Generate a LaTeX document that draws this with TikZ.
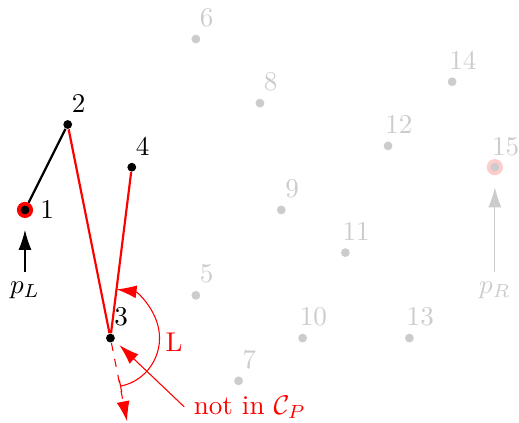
\documentclass[tikz,border=0pt]{standalone}
\usepackage{tikz}
\usetikzlibrary{arrows.meta,calc}
\colorlet{hullRed}{red}
\colorlet{faded}{black!20}
\colorlet{fadedRed}{red!20}
\tikzset{
  pt/.style={circle,fill=black,inner sep=0pt,minimum size=3.25pt},
  fadedpt/.style={pt,fill=faded},
  ringpt/.style={pt,minimum size=4.6pt,draw=hullRed,line width=1.35pt},
  lbl/.style={inner sep=0pt,label distance=2.4pt,xshift=4pt},
  tip/.style={-{Latex[length=7.4pt,width=4.8pt]}},
}

\begin{document}
\begin{tikzpicture}[x=0.277cm,y=0.277cm]
        \useasboundingbox (-1.17,-9.97) rectangle (23.13,9.83);
        \node[fadedpt,label={[lbl,faded]above:5}] (p5) at (8,-4) {};
        \node[fadedpt,label={[lbl,faded]above:6}] (p6) at (8,8) {};
        \node[fadedpt,label={[lbl,faded]above:7}] (p7) at (10,-8) {};
        \node[fadedpt,label={[lbl,faded]above:8}] (p8) at (11,5) {};
        \node[fadedpt,label={[lbl,faded]above:9}] (p9) at (12,0) {};
        \node[fadedpt,label={[lbl,faded]above:10}] (p10) at (13,-6) {};
        \node[fadedpt,label={[lbl,faded]above:11}] (p11) at (15,-2) {};
        \node[fadedpt,label={[lbl,faded]above:12}] (p12) at (17,3) {};
        \node[fadedpt,label={[lbl,faded]above:13}] (p13) at (18,-6) {};
        \node[fadedpt,label={[lbl,faded]above:14}] (p14) at (20,6) {};
        \node[ringpt,draw=fadedRed,fill=faded,label={[lbl,faded,label distance=1pt]above:15}] (p15) at (22,2) {};
        \node[text=faded] (pR) at (22,-3.75) {$p_R$};
        \draw[tip,faded,shorten >=4.4pt] (pR) -- (p15);

        \node[ringpt,label={[inner sep=0pt,label distance=2.5pt]right:1}] (p1) at (0,0) {};
        \node[pt,label={[lbl]above:2}] (p2) at (2,4) {};
        \node[pt,label={[lbl]above:3}] (p3) at (4,-6) {};
        \node[pt,label={[lbl]above:4}] (p4) at (5,2) {};
        \node (pL) at (0,-3.75) {$p_L$};
        \draw[tip,shorten >=4.4pt] (pL) -- (p1);
        \draw[thick] (p1) -- (p2);
        \draw[thick,hullRed] (p2) -- (p3) -- (p4);

        \coordinate (p3ext) at ($(p3)!-0.39!(p2)$);
        \draw[tip,hullRed,dashed] (p3) -- (p3ext);
        \draw[hullRed,{Bar}-{Latex[length=7.4pt,width=4.8pt]}] ($(p3)+(-78.7:2.3)$) arc[start angle=-78.7,end angle=82.9,radius=2.3];
        \node[text=hullRed] (L) at (6.98,-6.18) {L};

        \node[text=hullRed] (notin) at (10.53,-9.22) {not in $\mathcal{C}_P$};
        \coordinate (notintip) at ($(p3)+(0.42,-0.33)$);
        \draw[tip,hullRed] (notin.west) -- (notintip);
      \end{tikzpicture}
\end{document}
